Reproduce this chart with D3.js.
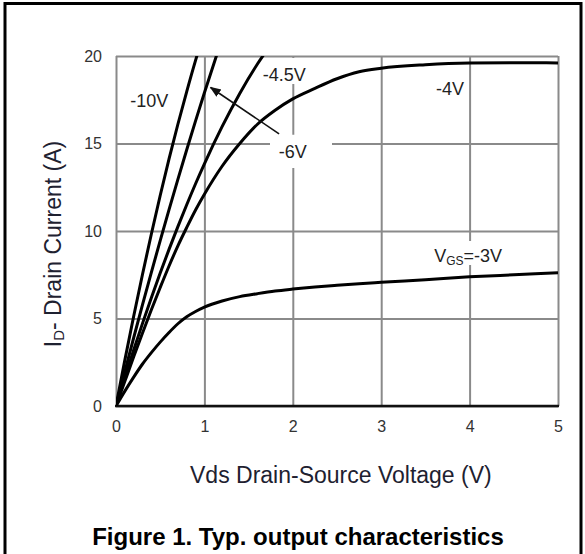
<!DOCTYPE html>
<html>
<head>
<meta charset="utf-8">
<script src="https://cdn.jsdelivr.net/npm/d3@7"></script>
<style>
  body { margin: 0; background: #fff; }
  svg { display: block; font-family: "Liberation Sans", Arial, sans-serif; }
</style>
</head>
<body>
<script>
// drain-source voltage (V) and drain current (A)
var vdsSteep = [0, 0.1, 0.2, 0.3, 0.4, 0.5, 0.6, 0.7, 0.8, 0.9, 1.0, 1.2, 1.4, 1.6, 1.8];
var id10 = [0, 2.62, 5.13, 7.53, 9.83, 12.03, 14.12, 16.1, 17.97, 19.75, 21.4, 24, 26, 28, 30];
var id6 = [0, 1.97, 3.9, 5.79, 7.64, 9.45, 11.22, 12.95, 14.64, 16.29, 17.9, 21.0, 24, 26, 28];
var id45 = [0, 1.63, 3.2, 4.72, 6.19, 7.6, 8.95, 10.25, 11.5, 12.7, 13.84, 15.96, 17.86, 19.54, 21.0];

var vdsSat = [0, 0.1, 0.2, 0.3, 0.4, 0.5, 0.6, 0.7, 0.8, 0.9, 1.0, 1.2, 1.4, 1.6, 1.8, 2.0, 2.25, 2.5, 2.75, 3.0, 3.5, 4.0, 4.5, 5.0];
var id4 = [0, 1.41, 2.81, 4.17, 5.5, 6.77, 8.0, 9.15, 10.2, 11.2, 12.1, 13.7, 15.0, 16.1, 16.9, 17.55, 18.15, 18.7, 19.1, 19.3, 19.5, 19.6, 19.62, 19.6];
var id3 = [0, 0.85, 1.65, 2.4, 3.05, 3.65, 4.2, 4.7, 5.1, 5.4, 5.65, 6.0, 6.25, 6.42, 6.57, 6.68, 6.8, 6.9, 6.99, 7.07, 7.22, 7.38, 7.5, 7.62];

var xTicks = [0, 1, 2, 3, 4, 5];
var yTicks = [0, 5, 10, 15, 20];

var curves = [
    { name: "-10V", v: vdsSteep, i: id10 },
    { name: "-6V", v: vdsSteep, i: id6 },
    { name: "-4.5V", v: vdsSteep, i: id45 },
    { name: "-4V", v: vdsSat, i: id4 },
    { name: "-3V", v: vdsSat, i: id3 }
];

var w = 585;
var h = 554;

var svg = d3.select("body").append("svg")
    .attr("width", w)
    .attr("height", h);

// outer frame of the figure
svg.append("rect")
    .attr("x", 5).attr("y", 3.5)
    .attr("width", 576).attr("height", 570)
    .attr("fill", "none")
    .attr("stroke", "#000")
    .attr("stroke-width", 3);

var x = d3.scaleLinear().domain([0, 5]).range([116, 558]);
var y = d3.scaleLinear().domain([0, 20]).range([406, 56]);

svg.append("clipPath").attr("id", "plot")
    .append("rect")
    .attr("x", x(0)).attr("y", y(20))
    .attr("width", x(5) - x(0)).attr("height", y(0) - y(20));

// grid via axes
var gx = svg.append("g")
    .attr("transform", "translate(0," + y(0) + ")")
    .call(d3.axisBottom(x).tickValues(xTicks).tickFormat(d3.format("d"))
        .tickSize(-(y(0) - y(20))).tickPadding(15));
var gy = svg.append("g")
    .attr("transform", "translate(" + x(0) + ",0)")
    .call(d3.axisLeft(y).tickValues(yTicks).tickFormat(d3.format("d"))
        .tickSize(-(x(5) - x(0))).tickPadding(14));

[gx, gy].forEach(function(g) {
    g.select(".domain").remove();
    g.selectAll(".tick line").attr("stroke", "#8a8a8a").attr("stroke-width", 2);
    g.selectAll(".tick text")
        .attr("font-size", 16)
        .attr("fill", "#333")
        .attr("font-family", "Liberation Sans, Arial, sans-serif");
});

// bottom edge is drawn black
svg.append("line")
    .attr("x1", x(0) - 1).attr("x2", x(5) + 1)
    .attr("y1", y(0)).attr("y2", y(0))
    .attr("stroke", "#111").attr("stroke-width", 2.5);

// white patches where labels cut through the grid
svg.append("rect") // behind -6V
    .attr("x", 270).attr("y", y(15.5))
    .attr("width", 62).attr("height", y(13.6) - y(15.5))
    .attr("fill", "#fff");
svg.append("rect") // behind -4.5V
    .attr("x", 259).attr("y", y(20) + 2)
    .attr("width", 52).attr("height", 26)
    .attr("fill", "#fff");
svg.append("rect") // behind VGS
    .attr("x", 430).attr("y", 241)
    .attr("width", 82).attr("height", 24)
    .attr("fill", "#fff");

var line = d3.line()
    .x(function(d) { return x(d[0]); })
    .y(function(d) { return y(d[1]); })
    .curve(d3.curveMonotoneX);

svg.append("g")
    .attr("clip-path", "url(#plot)")
    .selectAll("path")
    .data(curves)
    .enter()
    .append("path")
    .attr("d", function(c) {
        return line(c.v.map(function(v, k) { return [v, c.i[k]]; }));
    })
    .attr("fill", "none")
    .attr("stroke", "#000")
    .attr("stroke-width", 3);

// arrow pointing at the -6V line
svg.append("defs").append("marker")
    .attr("id", "head")
    .attr("viewBox", "0 0 10 10")
    .attr("refX", 9).attr("refY", 5)
    .attr("markerWidth", 7).attr("markerHeight", 7)
    .attr("orient", "auto")
    .append("path")
    .attr("d", "M0,1 L10,5 L0,9 Z")
    .attr("fill", "#111");

svg.append("line")
    .attr("x1", x(1.845)).attr("y1", y(15.55))
    .attr("x2", x(1.07)).attr("y2", y(18.2))
    .attr("stroke", "#111")
    .attr("stroke-width", 1.6)
    .attr("marker-end", "url(#head)");

var labels = [
    { t: "-10V", vx: 0.16, vy: 17.1 },
    { t: "-4.5V", vx: 1.66, vy: 18.55 },
    { t: "-6V", vx: 1.84, vy: 14.2 },
    { t: "-4V", vx: 3.62, vy: 17.8 }
];
svg.selectAll("text.lbl")
    .data(labels)
    .enter()
    .append("text")
    .attr("class", "lbl")
    .attr("x", function(d) { return x(d.vx); })
    .attr("y", function(d) { return y(d.vy); })
    .attr("font-size", 18)
    .attr("fill", "#222")
    .text(function(d) { return d.t; });

var vgs = svg.append("text")
    .attr("x", x(3.6)).attr("y", 262)
    .attr("font-size", 18)
    .attr("fill", "#222");
vgs.append("tspan").text("V");
vgs.append("tspan").attr("font-size", 12).attr("dy", 3).text("GS");
vgs.append("tspan").attr("dy", -3).text("=-3V");

// axis titles
svg.append("text")
    .attr("x", 190).attr("y", 483)
    .attr("font-size", 23)
    .attr("fill", "#1e2130")
    .text("Vds Drain-Source Voltage (V)");

var yt = svg.append("text")
    .attr("transform", "translate(61,244) rotate(-90)")
    .attr("text-anchor", "middle")
    .attr("font-size", 23)
    .attr("fill", "#1e2130");
yt.append("tspan").text("I");
yt.append("tspan").attr("font-size", 15).attr("dy", 3).text("D");
yt.append("tspan").attr("dy", -3).text("- Drain Current (A)");

svg.append("text")
    .attr("x", 298).attr("y", 545)
    .attr("text-anchor", "middle")
    .attr("font-size", 24)
    .attr("font-weight", "bold")
    .attr("fill", "#000")
    .text("Figure 1. Typ. output characteristics");
</script>
</body>
</html>
